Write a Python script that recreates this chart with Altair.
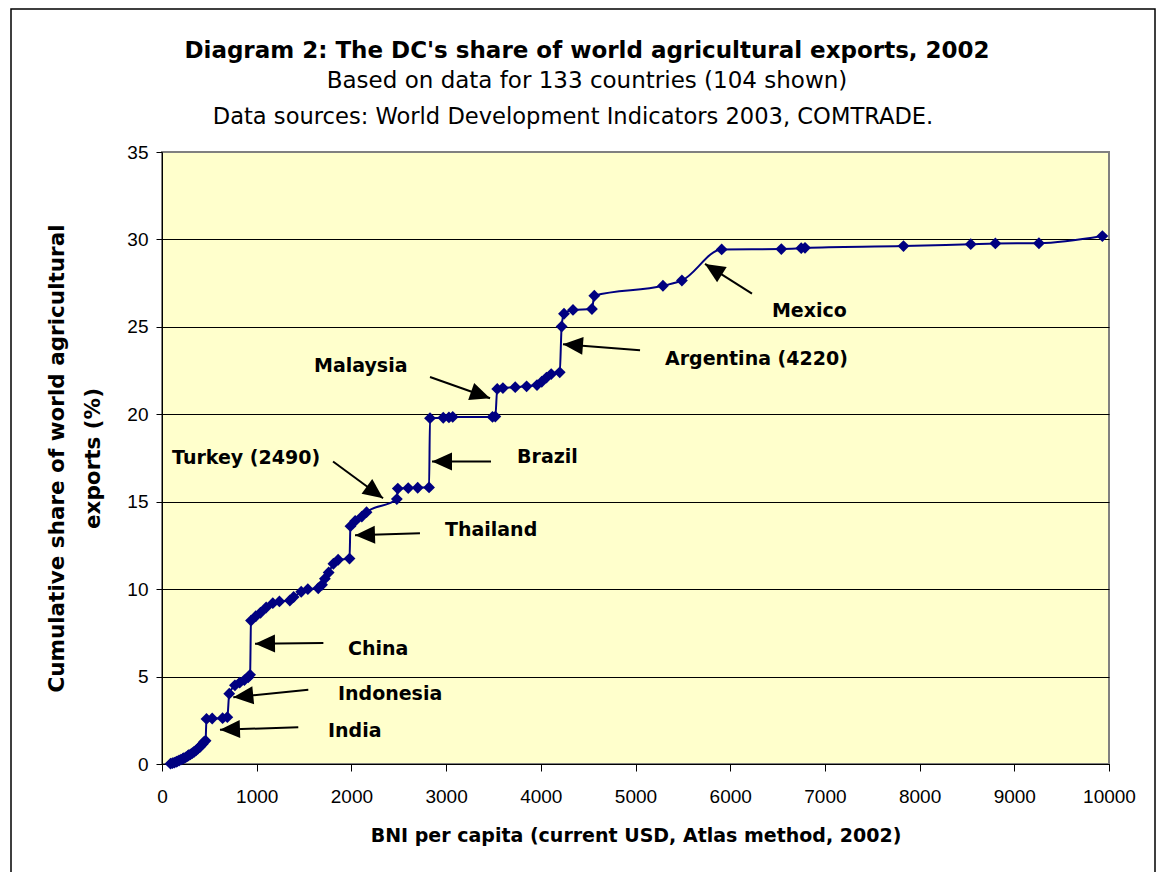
import math
import altair as alt
import pandas as pd

# ---- data (BNI per capita, cumulative share %) ----
bni = [90, 110, 130, 150, 160, 180, 200, 220, 230, 250, 270, 280, 300, 320, 340,
       360, 380, 400, 410, 430, 440, 460,
       470, 530, 640, 690,
       710,
       770, 820, 870, 910, 930,
       940,
       990, 1040, 1100, 1170, 1240, 1350, 1390, 1470, 1540, 1650,
       1690, 1720, 1760, 1810, 1860, 1980,
       1990,
       2040, 2110, 2160,
       2480,
       2490,
       2600, 2700, 2820,
       2830,
       2970, 3030, 3070, 3490, 3520,
       3540,
       3600, 3730, 3850, 3960, 4010, 4060, 4110, 4200,
       4220,
       4245, 4340, 4540, 4565,
       5290, 5490,
       5910,
       6540, 6750, 6790,
       7830, 8540, 8800, 9260, 9930]
share = [0.02, 0.05, 0.08, 0.12, 0.15, 0.20, 0.25, 0.30, 0.33, 0.38, 0.45, 0.50, 0.55, 0.62, 0.70,
         0.78, 0.88, 0.97, 1.05, 1.15, 1.25, 1.33,
         2.58, 2.60, 2.62, 2.68,
         4.02,
         4.50, 4.65, 4.80, 4.95, 5.10,
         8.20,
         8.45, 8.65, 8.95, 9.20, 9.30, 9.35, 9.55, 9.85, 10.00, 10.05,
         10.25, 10.60, 10.95, 11.45, 11.68, 11.75,
         13.60,
         13.90, 14.15, 14.40,
         15.15,
         15.75,
         15.78, 15.80, 15.82,
         19.78,
         19.80, 19.82, 19.85, 19.85, 19.87,
         21.45,
         21.50, 21.55, 21.60, 21.67, 21.86, 22.10, 22.30, 22.40,
         25.02,
         25.75, 25.97, 26.02, 26.78,
         27.35, 27.65,
         29.43,
         29.45, 29.50, 29.52,
         29.62, 29.73, 29.77, 29.78, 30.19]

# ---- annotations ----
ann_label = ["India", "Indonesia", "China", "Thailand", "Turkey (2490)", "Brazil",
             "Malaysia", "Argentina (4220)", "Mexico"]
ann_text_x = [1753, 1858, 1964, 2988, 106, 3749, 1605, 5311, 6441]
ann_text_y = [1.9, 3.98, 6.6, 13.36, 17.49, 17.54, 22.75, 23.15, 25.9]
arrow_tail_x = [1439, 1545, 1704, 2724, 1806, 3474, 2830, 5048, 6230]
arrow_tail_y = [2.1, 4.25, 6.92, 13.2, 17.3, 17.3, 22.13, 23.66, 26.9]
arrow_tip_x = [612, 753, 982, 2038, 2334, 2851, 3464, 4234, 5734]
arrow_tip_y = [1.96, 3.82, 6.88, 13.08, 15.2, 17.3, 20.92, 24.0, 28.6]

title_lines = ["Diagram 2: The DC's share of world agricultural exports, 2002",
               "Based on data for 133 countries (104 shown)",
               "Data sources: World Development Indicators 2003, COMTRADE."]

x_ticks = list(range(0, 10001, 1000))
y_ticks = list(range(0, 36, 5))

W, H = 947, 612
XMAX, YMAX = 10000, 35
FONT = "Liberation Sans"
BFONT = "DejaVu Sans"
NAVY = "#000080"

df = pd.DataFrame({"bni": bni, "share": share})

angles = []
for tx, ty, hx, hy in zip(arrow_tail_x, arrow_tail_y, arrow_tip_x, arrow_tip_y):
    dx = (hx - tx) * W / XMAX
    dy = -(hy - ty) * H / YMAX
    angles.append(math.degrees(math.atan2(-dy, -dx)) % 360)

ann = pd.DataFrame({
    "label": ann_label, "tx": ann_text_x, "ty": ann_text_y,
    "ax": arrow_tail_x, "ay": arrow_tail_y, "hx": arrow_tip_x, "hy": arrow_tip_y,
    "angle": angles,
})

xscale = alt.Scale(domain=[0, XMAX], nice=False, zero=True)
yscale = alt.Scale(domain=[0, YMAX], nice=False)

xaxis = alt.Axis(values=x_ticks, grid=False, title="BNI per capita (current USD, Atlas method, 2002)",
                 labelFont=FONT, labelFontSize=19, labelColor="black",
                 titleFont=BFONT, titleFontSize=19, titleFontWeight="bold", titleColor="black",
                 domainColor="black", tickColor="black", tickSize=7, labelPadding=16,
                 titlePadding=20, format="d", labelFlush=False)
yaxis = alt.Axis(values=y_ticks, grid=True,
                 gridColor=alt.condition(alt.datum.value == 35, alt.value("#808080"), alt.value("black")),
                 gridWidth=1,
                 title=["Cumulative share of world agricultural", "exports (%)"],
                 labelFont=FONT, labelFontSize=19, labelColor="black", labelPadding=8,
                 titleFont=BFONT, titleFontSize=21.5, titleFontWeight="bold", titleColor="black",
                 titleLineHeight=36, titleBaseline="middle", titleAlign="center",
                 titleAngle=270, titleX=-105, titleY=H / 2,
                 domainColor="black", tickColor="black", tickSize=6, labelFlush=False)

base = alt.Chart(df)
line = base.mark_line(color=NAVY, strokeWidth=2, interpolate="monotone").encode(
    x=alt.X("bni:Q", scale=xscale, axis=xaxis),
    y=alt.Y("share:Q", scale=yscale, axis=yaxis),
)
pts = base.mark_point(shape="diamond", filled=True, color=NAVY, size=140, opacity=1).encode(
    x="bni:Q", y="share:Q")

abase = alt.Chart(ann)
shafts = abase.mark_rule(color="black", strokeWidth=2).encode(
    x="ax:Q", y="ay:Q", x2="hx:Q", y2="hy:Q")
heads = abase.mark_point(shape="M0,0L2,-0.9L2,0.9Z", filled=True, color="black",
                         size=400, opacity=1).encode(
    x="hx:Q", y="hy:Q", angle=alt.Angle("angle:Q", scale=None))
labels = abase.mark_text(align="left", baseline="middle", font=BFONT, fontSize=19,
                         fontWeight="bold", color="black").encode(
    x="tx:Q", y="ty:Q", text="label:N")

one = pd.DataFrame({"k": [0]})
frame = alt.Chart(one).mark_rect(
    fill=None, stroke="black", strokeWidth=1.5).encode(
    x=alt.value(-151), x2=alt.value(993), y=alt.value(-143), y2=alt.value(740))

t_main = alt.Chart(one).mark_text(font=BFONT, fontSize=23, fontWeight="bold", color="black",
                                  align="center", baseline="alphabetic").encode(
    x=alt.value(425), y=alt.value(-94), text=alt.value(title_lines[0]))
t_sub1 = alt.Chart(one).mark_text(font=BFONT, fontSize=23, color="black",
                                  align="center", baseline="alphabetic").encode(
    x=alt.value(425), y=alt.value(-64), text=alt.value(title_lines[1]))
t_sub2 = alt.Chart(one).mark_text(font=BFONT, fontSize=22.6, color="black",
                                  align="center", baseline="alphabetic").encode(
    x=alt.value(411), y=alt.value(-28), text=alt.value(title_lines[2]))

chart = alt.layer(frame, line, pts, shafts, heads, labels, t_main, t_sub1, t_sub2).properties(
    width=W, height=H,
    autosize="none",
    padding={"left": 154, "top": 144, "right": 48, "bottom": 108},
    background="white",
).configure_view(fill="#FFFFCC", stroke="#808080", strokeWidth=2)

chart.save("out.html", embed_options={"renderer": "svg", "actions": False})
